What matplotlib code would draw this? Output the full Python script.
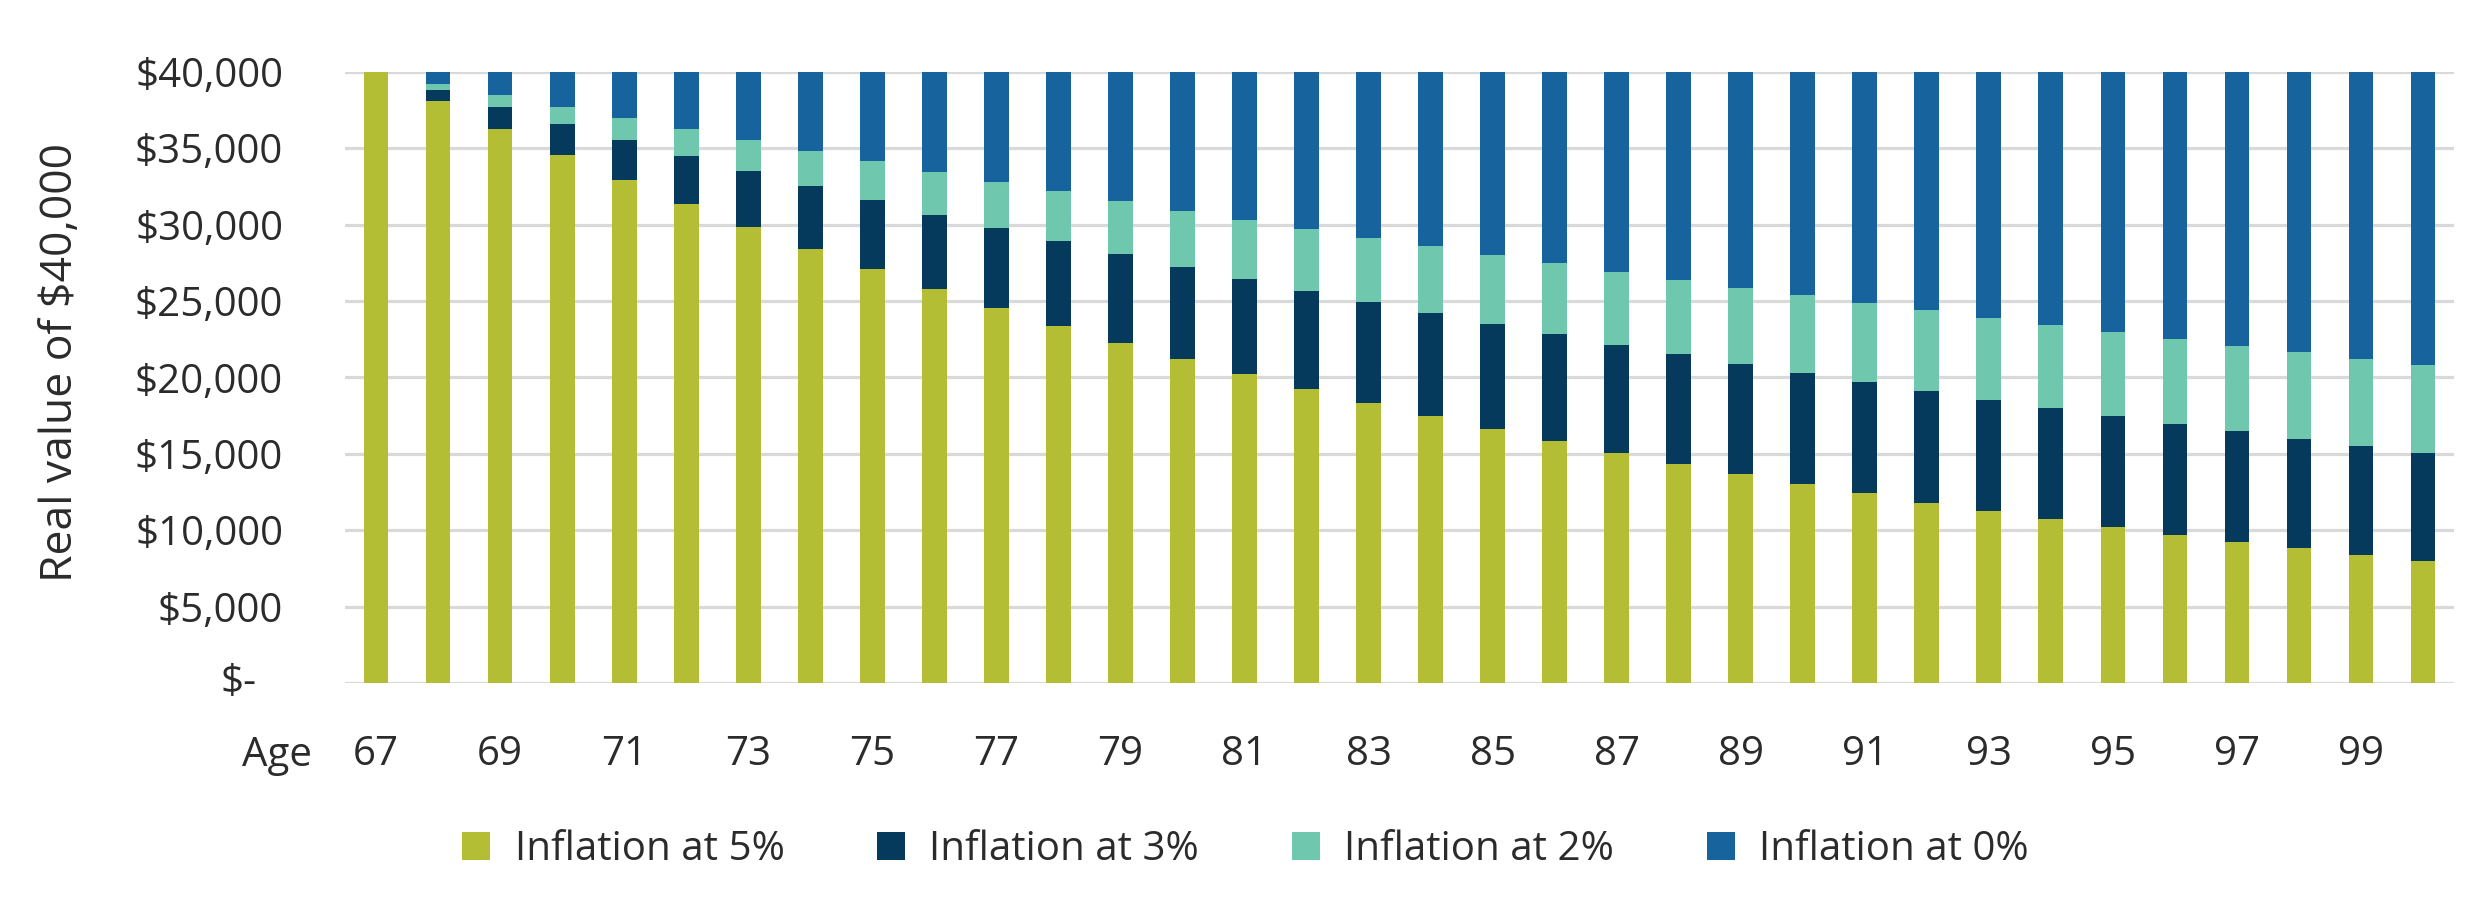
import numpy as np
import matplotlib
matplotlib.use("Agg")
import matplotlib.pyplot as plt

plt.rcParams['font.family'] = ['Open Sans', 'DejaVu Sans']

ages = list(range(67, 101))

# real value of $40,000 at each age, one list per inflation rate
infl_0 = [40000] * 34
infl_2 = [40000, 39216, 38447, 37693, 36954, 36229, 35519, 34822, 34140, 33470,
          32814, 32171, 31540, 30921, 30315, 29721, 29138, 28567, 28007, 27457,
          26919, 26391, 25874, 25366, 24869, 24381, 23903, 23434, 22975, 22525,
          22083, 21650, 21225, 20809]
infl_3 = [40000, 38835, 37704, 36606, 35539, 34504, 33499, 32524, 31577, 30657,
          29764, 28897, 28055, 27238, 26445, 25675, 24927, 24201, 23496, 22812,
          22148, 21502, 20876, 20268, 19678, 19105, 18548, 18008, 17484, 16975,
          16480, 16000, 15534, 15082]
infl_5 = [40000, 38095, 36281, 34554, 32908, 31341, 29849, 28427, 27074, 25785,
          24557, 23388, 22274, 21213, 20203, 19241, 18325, 17452, 16621, 15830,
          15076, 14358, 13674, 13023, 12403, 11812, 11250, 10714, 10204, 9718,
          9255, 8814, 8395, 7995]

yticks = [0, 5000, 10000, 15000, 20000, 25000, 30000, 35000, 40000]
ytick_labels = ['', '$5,000', '$10,000', '$15,000', '$20,000', '$25,000',
                '$30,000', '$35,000', '$40,000']

c_5 = '#b4be34'
c_3 = '#063a5c'
c_2 = '#6fc7ad'
c_0 = '#17639e'
text_c = '#2b2b2b'
fs = 29

fig = plt.figure(figsize=(24.81, 9.06), dpi=100)
ax = fig.add_axes([0.13906, 0.2461, 0.8501, 0.6747])

x = np.arange(len(ages))
w = 0.4
# bars overlap, biggest at the back
b0 = ax.bar(x, infl_0, w, color=c_0, zorder=2)
b2 = ax.bar(x, infl_2, w, color=c_2, zorder=3)
b3 = ax.bar(x, infl_3, w, color=c_3, zorder=4)
b5 = ax.bar(x, infl_5, w, color=c_5, zorder=5)

ax.set_xlim(-0.5, len(ages) - 0.5)
ax.set_ylim(0, 40000)
ax.set_yticks(yticks)
ax.set_yticklabels(ytick_labels)
ax.set_xticks(x[::2])
ax.set_xticklabels([str(a) for a in ages[::2]])
ax.tick_params(axis='y', length=0, pad=44.6, labelsize=fs, labelcolor=text_c)
ax.tick_params(axis='x', length=0, pad=37, labelsize=fs, labelcolor=text_c)

ax.yaxis.grid(True, color='#d9d9d9', linewidth=2.3, zorder=0)
ax.set_axisbelow(True)
for s in ax.spines.values():
    s.set_visible(False)

# accounting style zero label
ax.annotate('$-', xy=(0, 0), xycoords='axes fraction', xytext=(-63.5, 0),
            textcoords='offset points', ha='right', va='center',
            fontsize=fs, color=text_c)

fig.text(242 / 2481, 0.1545, 'Age', ha='left', va='baseline', fontsize=fs, color=text_c)
fig.text(0.0246, 0.6004, 'Real value of $40,000', rotation=90, ha='center', va='center',
         fontsize=32, color=text_c)

leg = fig.legend([b5, b3, b2, b0],
                 ['Inflation at 5%', 'Inflation at 3%', 'Inflation at 2%', 'Inflation at 0%'],
                 loc='center', bbox_to_anchor=(0.502, 0.062), ncol=4, frameon=False,
                 fontsize=fs, handlelength=0.7, handleheight=0.7, handletextpad=0.6,
                 columnspacing=2.3, labelcolor=text_c)

fig.savefig('out.png', dpi=100)
